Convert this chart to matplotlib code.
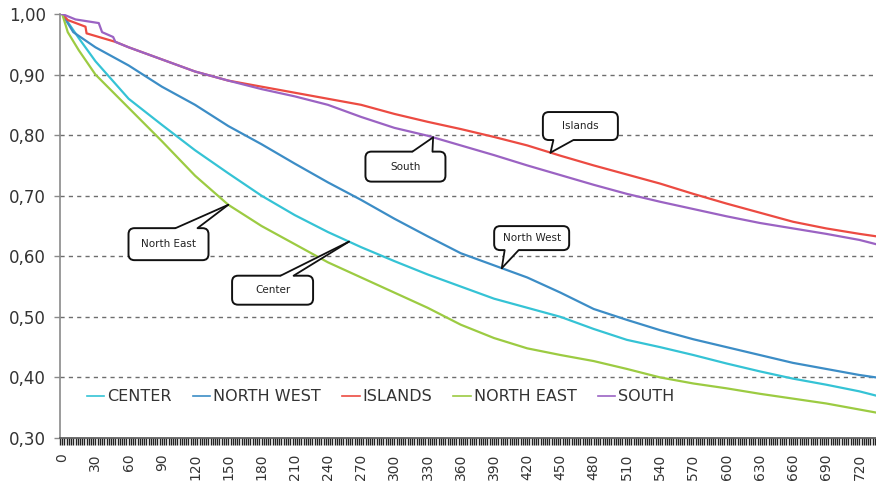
import numpy as np
import matplotlib
matplotlib.use("Agg")
import matplotlib.pyplot as plt
from matplotlib.ticker import MultipleLocator, FixedLocator
from matplotlib.patches import FancyBboxPatch, Polygon
from matplotlib.lines import Line2D
from matplotlib.transforms import IdentityTransform

# Survival curves by region (days on x, proportion still active on y)
center_days = [0, 15, 30, 60, 90, 120, 150, 180, 210, 240, 270, 300, 330, 360, 390,
               420, 450, 480, 510, 540, 570, 600, 630, 660, 690, 720, 735]
center = [1.00, 0.96, 0.922, 0.86, 0.817, 0.775, 0.737, 0.70, 0.668, 0.64, 0.615, 0.592,
          0.57, 0.55, 0.53, 0.515, 0.50, 0.48, 0.462, 0.45, 0.437, 0.423, 0.41, 0.398,
          0.388, 0.377, 0.37]

north_west_days = [0, 10, 30, 60, 90, 120, 150, 180, 210, 240, 270, 300, 330, 360, 390,
                   420, 450, 480, 510, 540, 570, 600, 630, 660, 690, 720, 735]
north_west = [1.00, 0.97, 0.945, 0.915, 0.88, 0.85, 0.815, 0.785, 0.753, 0.722, 0.693,
              0.662, 0.633, 0.605, 0.585, 0.565, 0.54, 0.513, 0.495, 0.478, 0.463, 0.45,
              0.437, 0.424, 0.414, 0.404, 0.40]

islands_days = [0, 5, 21, 22, 48, 60, 90, 120, 150, 180, 210, 240, 270, 300, 330, 360,
                390, 420, 450, 480, 510, 540, 570, 600, 630, 660, 690, 720, 735]
islands = [1.00, 0.99, 0.979, 0.968, 0.954, 0.945, 0.925, 0.905, 0.89, 0.88, 0.87, 0.86,
           0.85, 0.835, 0.822, 0.81, 0.797, 0.783, 0.766, 0.75, 0.735, 0.72, 0.703, 0.687,
           0.672, 0.657, 0.646, 0.637, 0.633]

north_east_days = [0, 5, 15, 30, 60, 90, 120, 150, 180, 210, 240, 270, 300, 330, 360, 390,
                   420, 450, 480, 510, 540, 570, 600, 630, 660, 690, 720, 735]
north_east = [1.00, 0.97, 0.94, 0.90, 0.845, 0.79, 0.733, 0.685, 0.65, 0.62, 0.59, 0.565,
              0.54, 0.515, 0.487, 0.465, 0.448, 0.437, 0.427, 0.414, 0.40, 0.39, 0.382,
              0.373, 0.365, 0.357, 0.347, 0.342]

south_days = [0, 12, 33, 36, 46, 48, 60, 90, 120, 150, 180, 210, 240, 270, 300, 330, 360,
              390, 420, 450, 480, 510, 540, 570, 600, 630, 660, 690, 720, 735]
south = [1.00, 0.991, 0.985, 0.97, 0.962, 0.954, 0.945, 0.925, 0.905, 0.89, 0.876, 0.864,
         0.85, 0.83, 0.812, 0.799, 0.783, 0.767, 0.75, 0.734, 0.718, 0.703, 0.69, 0.678,
         0.666, 0.655, 0.646, 0.637, 0.627, 0.62]

series = [
    ("CENTER", center_days, center, "#35C3D5"),
    ("NORTH WEST", north_west_days, north_west, "#3C8DC6"),
    ("ISLANDS", islands_days, islands, "#EC4B42"),
    ("NORTH EAST", north_east_days, north_east, "#9CCB42"),
    ("SOUTH", south_days, south, "#9B63C3"),
]

# Speech-bubble labels: text, curve, day the tail touches, box centre (day, value)
callout_text = ["North East", "Center", "South", "Islands", "North West"]
callout_curve = ["NORTH EAST", "CENTER", "SOUTH", "ISLANDS", "NORTH WEST"]
callout_day = [150, 259, 335, 441, 397]
callout_box = [(96, 0.620), (190, 0.544), (310, 0.748), (468, 0.815), (424, 0.630)]
# box size (px), tail side, tail base offsets from box centre (px)
callout_size = [(80, 32), (81, 29), (80, 30), (75, 28), (75, 24)]
callout_side = ["top", "top", "top", "bottom", "bottom"]
callout_base = [(7, 29), (8, 21), (7, 27), (-27, -7), (-27, -13)]

fig = plt.figure(figsize=(8.76, 4.82), dpi=100)
ax = fig.add_axes([0.0685, 0.0913, 0.9315, 0.8797])

lookup = {}
for name, d, v, c in series:
    ax.plot(d, v, color=c, lw=1.6, label=name, zorder=3)
    lookup[name] = (d, v)

ax.set_xlim(-2, 735)
ax.set_ylim(0.30, 1.00)

ax.xaxis.set_major_locator(MultipleLocator(30))
ax.xaxis.set_minor_locator(MultipleLocator(2))
yt = np.arange(0.30, 1.001, 0.10)
ax.yaxis.set_major_locator(FixedLocator(yt))
ax.set_yticklabels([f"{t:.2f}".replace(".", ",") for t in yt])

for y in np.arange(0.40, 0.95, 0.10):
    ax.axhline(y, color="#6E6E6E", lw=1.0, ls=(0, (3, 3)), zorder=1)

for s in ["top", "right"]:
    ax.spines[s].set_visible(False)
ax.spines["left"].set_color("#8A8A8A")
ax.spines["left"].set_linewidth(1.2)
ax.spines["bottom"].set_color("#555555")
ax.spines["bottom"].set_linewidth(1.2)

ax.tick_params(axis="x", which="major", length=5, width=1, color="#222222",
               labelrotation=90, labelsize=10, labelcolor="#333333", pad=6)
ax.tick_params(axis="x", which="minor", length=5, width=1, color="#222222")
ax.tick_params(axis="y", which="major", length=4, width=1, color="#8A8A8A",
               labelsize=12, labelcolor="#333333", pad=6)

leg = ax.legend(loc="center", bbox_to_anchor=(0.393, 0.097), ncol=5, frameon=False,
                fontsize=11.5, handlelength=1.1, handletextpad=0.2, columnspacing=1.3,
                labelcolor="#333333")
for line in leg.get_lines():
    line.set_linewidth(1.2)

# Speech bubbles drawn in pixel space so the boxes keep a fixed size
ident = IdentityTransform()
for text, curve, day, (bd, bv), (w, h), side, (o1, o2) in zip(
        callout_text, callout_curve, callout_day, callout_box,
        callout_size, callout_side, callout_base):
    d, v = lookup[curve]
    tip_val = float(np.interp(day, d, v))
    cx, cy = ax.transData.transform((bd, bv))
    tx, ty = ax.transData.transform((day, tip_val))

    box = FancyBboxPatch((cx - w / 2, cy - h / 2), w, h,
                         boxstyle="round,pad=0,rounding_size=6", transform=ident,
                         fc="white", ec="#111111", lw=1.4, zorder=5)
    ax.add_patch(box)

    edge = cy + h / 2 if side == "top" else cy - h / 2
    inward = -3 if side == "top" else 3
    tail = Polygon([(cx + o1, edge + inward), (cx + o1, edge), (tx, ty),
                    (cx + o2, edge), (cx + o2, edge + inward)],
                   closed=True, transform=ident, fc="white", ec="none", zorder=6)
    ax.add_patch(tail)
    for bx in (o1, o2):
        ax.add_line(Line2D([cx + bx, tx], [edge, ty], transform=ident,
                           color="#111111", lw=1.3, zorder=7,
                           solid_capstyle="round"))
    ax.text(cx, cy, text, transform=ident, ha="center", va="center",
            fontsize=7.5, color="#222222", zorder=8)

fig.savefig("out.png", dpi=100)
